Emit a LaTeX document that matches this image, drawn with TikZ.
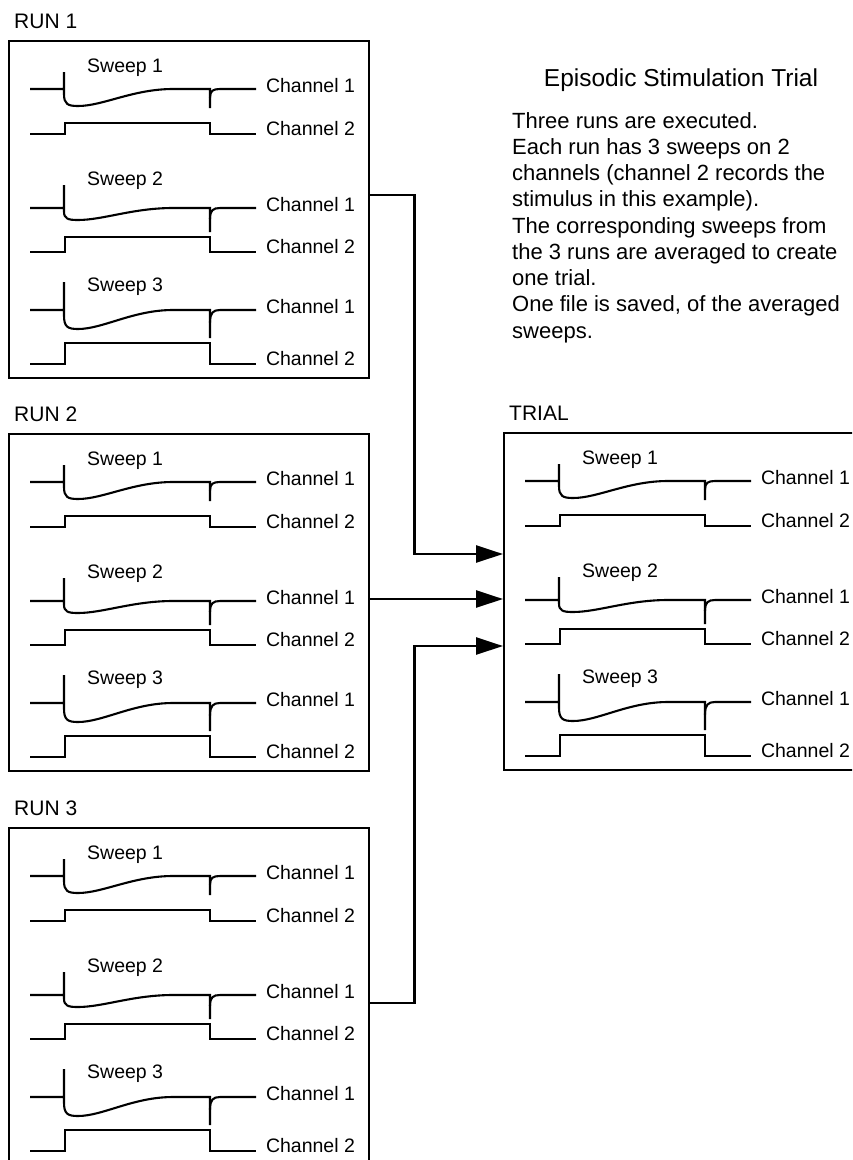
\documentclass[tikz,border=0pt]{standalone}
\usepackage{fontspec}
\setmainfont{Liberation Sans}
\usepackage{tikz}
\usetikzlibrary{arrows.meta, calc, positioning}

% one run (or the trial): frame, title and three sweeps on two channels
\newcommand\runbox[4]{%
  \begin{scope}[shift={(#2,#3)}]
    \node[frame] (#1) at (0,0) {};
    \node[boxtitle] (#1-title) at (6,-12) {#4};
    \foreach \n/\ly/\cy/\lo/\amp/\sp/\tr/\dp in
        {1/32.5/49/94/11/17/17/19, 2/145/168/212/15/23/12/24, 3/251/270/324/21/28/19/28}{
      \node[sweeplabel] (#1-s\n) at (79,\ly) {Sweep \n};
      % channel 1
      \draw[trace] (22,\cy) -- (56,\cy) -- (56,\cy-\sp) -- (56,\cy+0.3*\tr)
        .. controls (56,\cy+0.9*\tr) and (60,\cy+\tr) .. (70,\cy+\tr)
        .. controls (95,\cy+\tr) and (125,\cy) .. (165,\cy) -- (202,\cy) -- (202,\cy+\dp);
      \draw[trace] (202,\cy+0.45*\dp) .. controls (202,\cy+0.1*\dp) and (205,\cy) .. (212,\cy)
        -- (248,\cy) node[chlabel] (#1-s\n-c1) {Channel 1};
      % channel 2
      \draw[trace] (22,\lo) -- (57,\lo) -- (57,\lo-\amp) -- (202,\lo-\amp) -- (202,\lo)
        -- (248,\lo) node[chlabel=6pt] (#1-s\n-c2) {Channel 2};
    }
  \end{scope}}

\begin{document}
\begin{tikzpicture}[x=1pt, y=-1pt,
    frame/.style={draw, line width=2.2pt, anchor=north west, minimum width=360pt,
        minimum height=337pt, inner sep=0pt},
    boxtitle/.style={anchor=base west, inner sep=0pt, font=\fontsize{21}{25}\selectfont},
    sweeplabel/.style={anchor=base west, inner sep=0pt, font=\fontsize{19.5}{23}\selectfont},
    chlabel/.style={anchor=west, inner sep=0pt, xshift=9pt, yshift=#1,
        font=\fontsize{19.5}{23}\selectfont},
    chlabel/.default=4pt,
    trace/.style={line width=2.1pt},
    link/.style={line width=2.6pt, -{Triangle[length=27pt, width=17pt]}},
    notes/.style={anchor=north west, align=left, inner sep=0pt,
        font=\fontsize{22}{26.25}\selectfont}
  ]
  \useasboundingbox (0,0) rectangle (852,1160);
  \clip (0,0) rectangle (852,1160);

  % the three runs and the averaged trial
  \runbox{run1}{8}{40}{RUN 1}
  \runbox{run2}{8}{433}{RUN 2}
  \runbox{run3}{8}{827}{RUN 3}
  \runbox{trial}{503}{432}{TRIAL}

  % text
  \node[anchor=base, font=\fontsize{24.5}{29}\selectfont] (heading) at (681,86)
    {Episodic Stimulation Trial};
  \node[notes] (notes) at (512,112) {Three runs are executed.\\
    Each run has 3 sweeps on 2\\
    channels (channel 2 records the\\
    stimulus in this example).\\
    The corresponding sweeps from\\
    the 3 runs are averaged to create\\
    one trial.\\
    One file is saved, of the averaged\\
    sweeps.};

  % links into the trial
  \coordinate (out1) at ($(run1.north east)+(0,155)$);
  \coordinate (out2) at ($(run2.north east)+(0,166)$);
  \coordinate (out3) at ($(run3.north east)+(0,176)$);
  \coordinate (in1) at ($(trial.north west)+(0,122)$);
  \coordinate (in3) at ($(trial.north west)+(0,214)$);

  \draw[link] (out1) -- ++(44,0) |- (in1);
  \draw[link] (out2) -- (out2 -| trial.west);
  \draw[link] (out3) -- ++(44,0) |- (in3);

\end{tikzpicture}
\end{document}
